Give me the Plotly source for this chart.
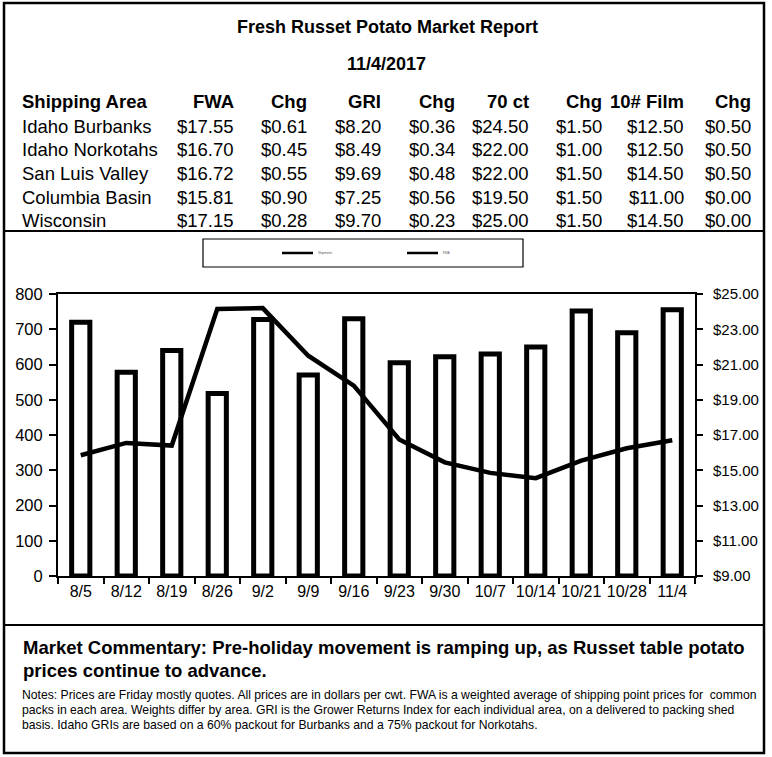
import plotly.graph_objects as go

# ---------------- data ----------------
weeks = ["8/5", "8/12", "8/19", "8/26", "9/2", "9/9", "9/16", "9/23",
         "9/30", "10/7", "10/14", "10/21", "10/28", "11/4"]
shipments = [720, 578, 640, 518, 728, 570, 730, 605, 622, 630, 650, 752, 690, 755]
fwa_price = [15.85, 16.55, 16.40, 24.15, 24.20, 21.50, 19.80, 16.75,
             15.45, 14.85, 14.55, 15.55, 16.25, 16.70]

areas = ["Idaho Burbanks", "Idaho Norkotahs", "San Luis Valley", "Columbia Basin", "Wisconsin"]
headers = ["FWA", "Chg", "GRI", "Chg", "70 ct", "Chg", "10# Film", "Chg"]
fwa = ["$17.55", "$16.70", "$16.72", "$15.81", "$17.15"]
fwa_chg = ["$0.61", "$0.45", "$0.55", "$0.90", "$0.28"]
gri = ["$8.20", "$8.49", "$9.69", "$7.25", "$9.70"]
gri_chg = ["$0.36", "$0.34", "$0.48", "$0.56", "$0.23"]
ct70 = ["$24.50", "$22.00", "$22.00", "$19.50", "$25.00"]
ct70_chg = ["$1.50", "$1.00", "$1.50", "$1.50", "$1.50"]
film10 = ["$12.50", "$12.50", "$14.50", "$11.00", "$14.50"]
film10_chg = ["$0.50", "$0.50", "$0.50", "$0.00", "$0.00"]
table_cols = [fwa, fwa_chg, gri, gri_chg, ct70, ct70_chg, film10, film10_chg]

title = "Fresh Russet Potato Market Report"
date = "11/4/2017"
commentary = ["Market Commentary: Pre-holiday movement is ramping up, as Russet table potato",
              "prices continue to advance."]
notes = ["Notes: Prices are Friday mostly quotes. All prices are in dollars per cwt. FWA is a weighted average of shipping point prices for  common",
         "packs in each area. Weights differ by area. GRI is the Grower Returns Index for each individual area, on a delivered to packing shed",
         "basis. Idaho GRIs are based on a 60% packout for Burbanks and a 75% packout for Norkotahs."]

# ---------------- layout geometry ----------------
W, H = 772, 757
L, R, T, B = 58, 695, 294, 576  # plot area in pixels


def px_x(p):
    return (p - L) / (R - L)


def px_y(p):
    return (B - p) / (B - T)


FONT = "Liberation Sans, Arial, sans-serif"
TBL = 18.5

fig = go.Figure()
fig.add_trace(go.Bar(
    x=weeks, y=shipments, name="Shipments",
    marker=dict(color="white", line=dict(color="black", width=5)),
    showlegend=False, yaxis="y",
))
fig.add_trace(go.Scatter(
    x=weeks, y=fwa_price, name="FWA", mode="lines",
    line=dict(color="black", width=4.5),
    showlegend=False, yaxis="y2",
))

annotations = []
shapes = []

# Title and date
annotations.append(dict(text="<b>%s</b>" % title, x=px_x(388), y=px_y(27), xref="paper", yref="paper",
                        showarrow=False, xanchor="center", yanchor="middle",
                        font=dict(family=FONT, size=18, color="black")))
annotations.append(dict(text="<b>%s</b>" % date, x=px_x(386), y=px_y(64), xref="paper", yref="paper",
                        showarrow=False, xanchor="center", yanchor="middle",
                        font=dict(family=FONT, size=18, color="black")))

# Table
col_right = [236, 309, 383, 457, 531, 604, 686, 753]
row_y = [126.5, 150, 173.5, 197, 220.5]
header_y = 102
annotations.append(dict(text="<b>Shipping Area</b>", x=px_x(20), y=px_y(header_y), xref="paper", yref="paper",
                        showarrow=False, xanchor="left", yanchor="middle",
                        font=dict(family=FONT, size=TBL, color="black")))
for h, cx in zip(headers, col_right):
    annotations.append(dict(text="<b>%s</b>" % h, x=px_x(cx), y=px_y(header_y), xref="paper", yref="paper",
                            showarrow=False, xanchor="right", yanchor="middle",
                            font=dict(family=FONT, size=TBL, color="black")))
for i, area in enumerate(areas):
    annotations.append(dict(text=area, x=px_x(20), y=px_y(row_y[i]), xref="paper", yref="paper",
                            showarrow=False, xanchor="left", yanchor="middle",
                            font=dict(family=FONT, size=TBL, color="black")))
    for col, cx in zip(table_cols, col_right):
        annotations.append(dict(text=col[i], x=px_x(cx), y=px_y(row_y[i]), xref="paper", yref="paper",
                                showarrow=False, xanchor="right", yanchor="middle",
                                font=dict(family=FONT, size=TBL, color="black")))

# Commentary and notes
for txt, yy in zip(commentary, [647, 670]):
    annotations.append(dict(text="<b>%s</b>" % txt, x=px_x(21), y=px_y(yy), xref="paper", yref="paper",
                            showarrow=False, xanchor="left", yanchor="middle",
                            font=dict(family=FONT, size=18.5, color="black")))
for txt, yy in zip(notes, [695, 710, 725]):
    annotations.append(dict(text=txt, x=px_x(20), y=px_y(yy), xref="paper", yref="paper",
                            showarrow=False, xanchor="left", yanchor="middle",
                            font=dict(family=FONT, size=12.2, color="black")))

# Frame and dividers
shapes.append(dict(type="rect", xref="paper", yref="paper", x0=px_x(4), x1=px_x(764), y0=px_y(3), y1=px_y(753),
                   line=dict(color="black", width=2.5)))
for yy in [231, 625]:
    shapes.append(dict(type="line", xref="paper", yref="paper", x0=px_x(4), x1=px_x(764), y0=px_y(yy), y1=px_y(yy),
                       line=dict(color="black", width=2)))

# Legend box (decorative, as in the original)
shapes.append(dict(type="rect", xref="paper", yref="paper", x0=px_x(203), x1=px_x(523), y0=px_y(239), y1=px_y(267),
                   line=dict(color="black", width=1.2)))
for (lx0, lx1, name, tx) in [(282, 313, "Shipments", 316), (407, 438, "FWA", 441)]:
    shapes.append(dict(type="line", xref="paper", yref="paper", x0=px_x(lx0), x1=px_x(lx1), y0=px_y(253), y1=px_y(253),
                       line=dict(color="black", width=2.5)))
    annotations.append(dict(text=name, x=px_x(tx), y=px_y(253), xref="paper", yref="paper",
                            showarrow=False, xanchor="left", yanchor="middle",
                            font=dict(family=FONT, size=3, color="#555")))

fig.update_layout(
    width=W, height=H,
    margin=dict(l=L, r=W - R, t=T, b=H - B, pad=0, autoexpand=False),
    paper_bgcolor="white", plot_bgcolor="white",
    bargap=0.6,
    font=dict(family=FONT, color="black"),
    xaxis=dict(type="category", showline=True, linecolor="black", linewidth=2, mirror=True,
               ticks="outside", ticklen=6, tickwidth=1.5, tickcolor="black", tickson="boundaries",
               showgrid=False, tickfont=dict(size=16, color="black"), zeroline=False, tickangle=0,
               range=[-0.5, 13.5], automargin=False),
    yaxis=dict(range=[0, 800], dtick=100, tick0=0, showline=True, linecolor="black", linewidth=2, mirror=True,
               ticks="outside", ticklen=7, tickwidth=1.5, tickcolor="black", showgrid=False,
               zeroline=False, tickfont=dict(size=16.5, color="black"), ticklabelstandoff=3, automargin=False),
    yaxis2=dict(range=[9, 25], dtick=2, tick0=9, overlaying="y", side="right", showline=True, linecolor="black",
                linewidth=2, ticks="outside", ticklen=6, tickwidth=1.5, tickcolor="black", showgrid=False,
                zeroline=False, tickprefix="$", tickformat=".2f", tickfont=dict(size=15, color="black"),
                ticklabelstandoff=7, automargin=False),
    annotations=annotations,
    shapes=shapes,
)

fig.write_html("out.html", config={"displayModeBar": False},
               post_script="document.body.style.margin='0px';")
